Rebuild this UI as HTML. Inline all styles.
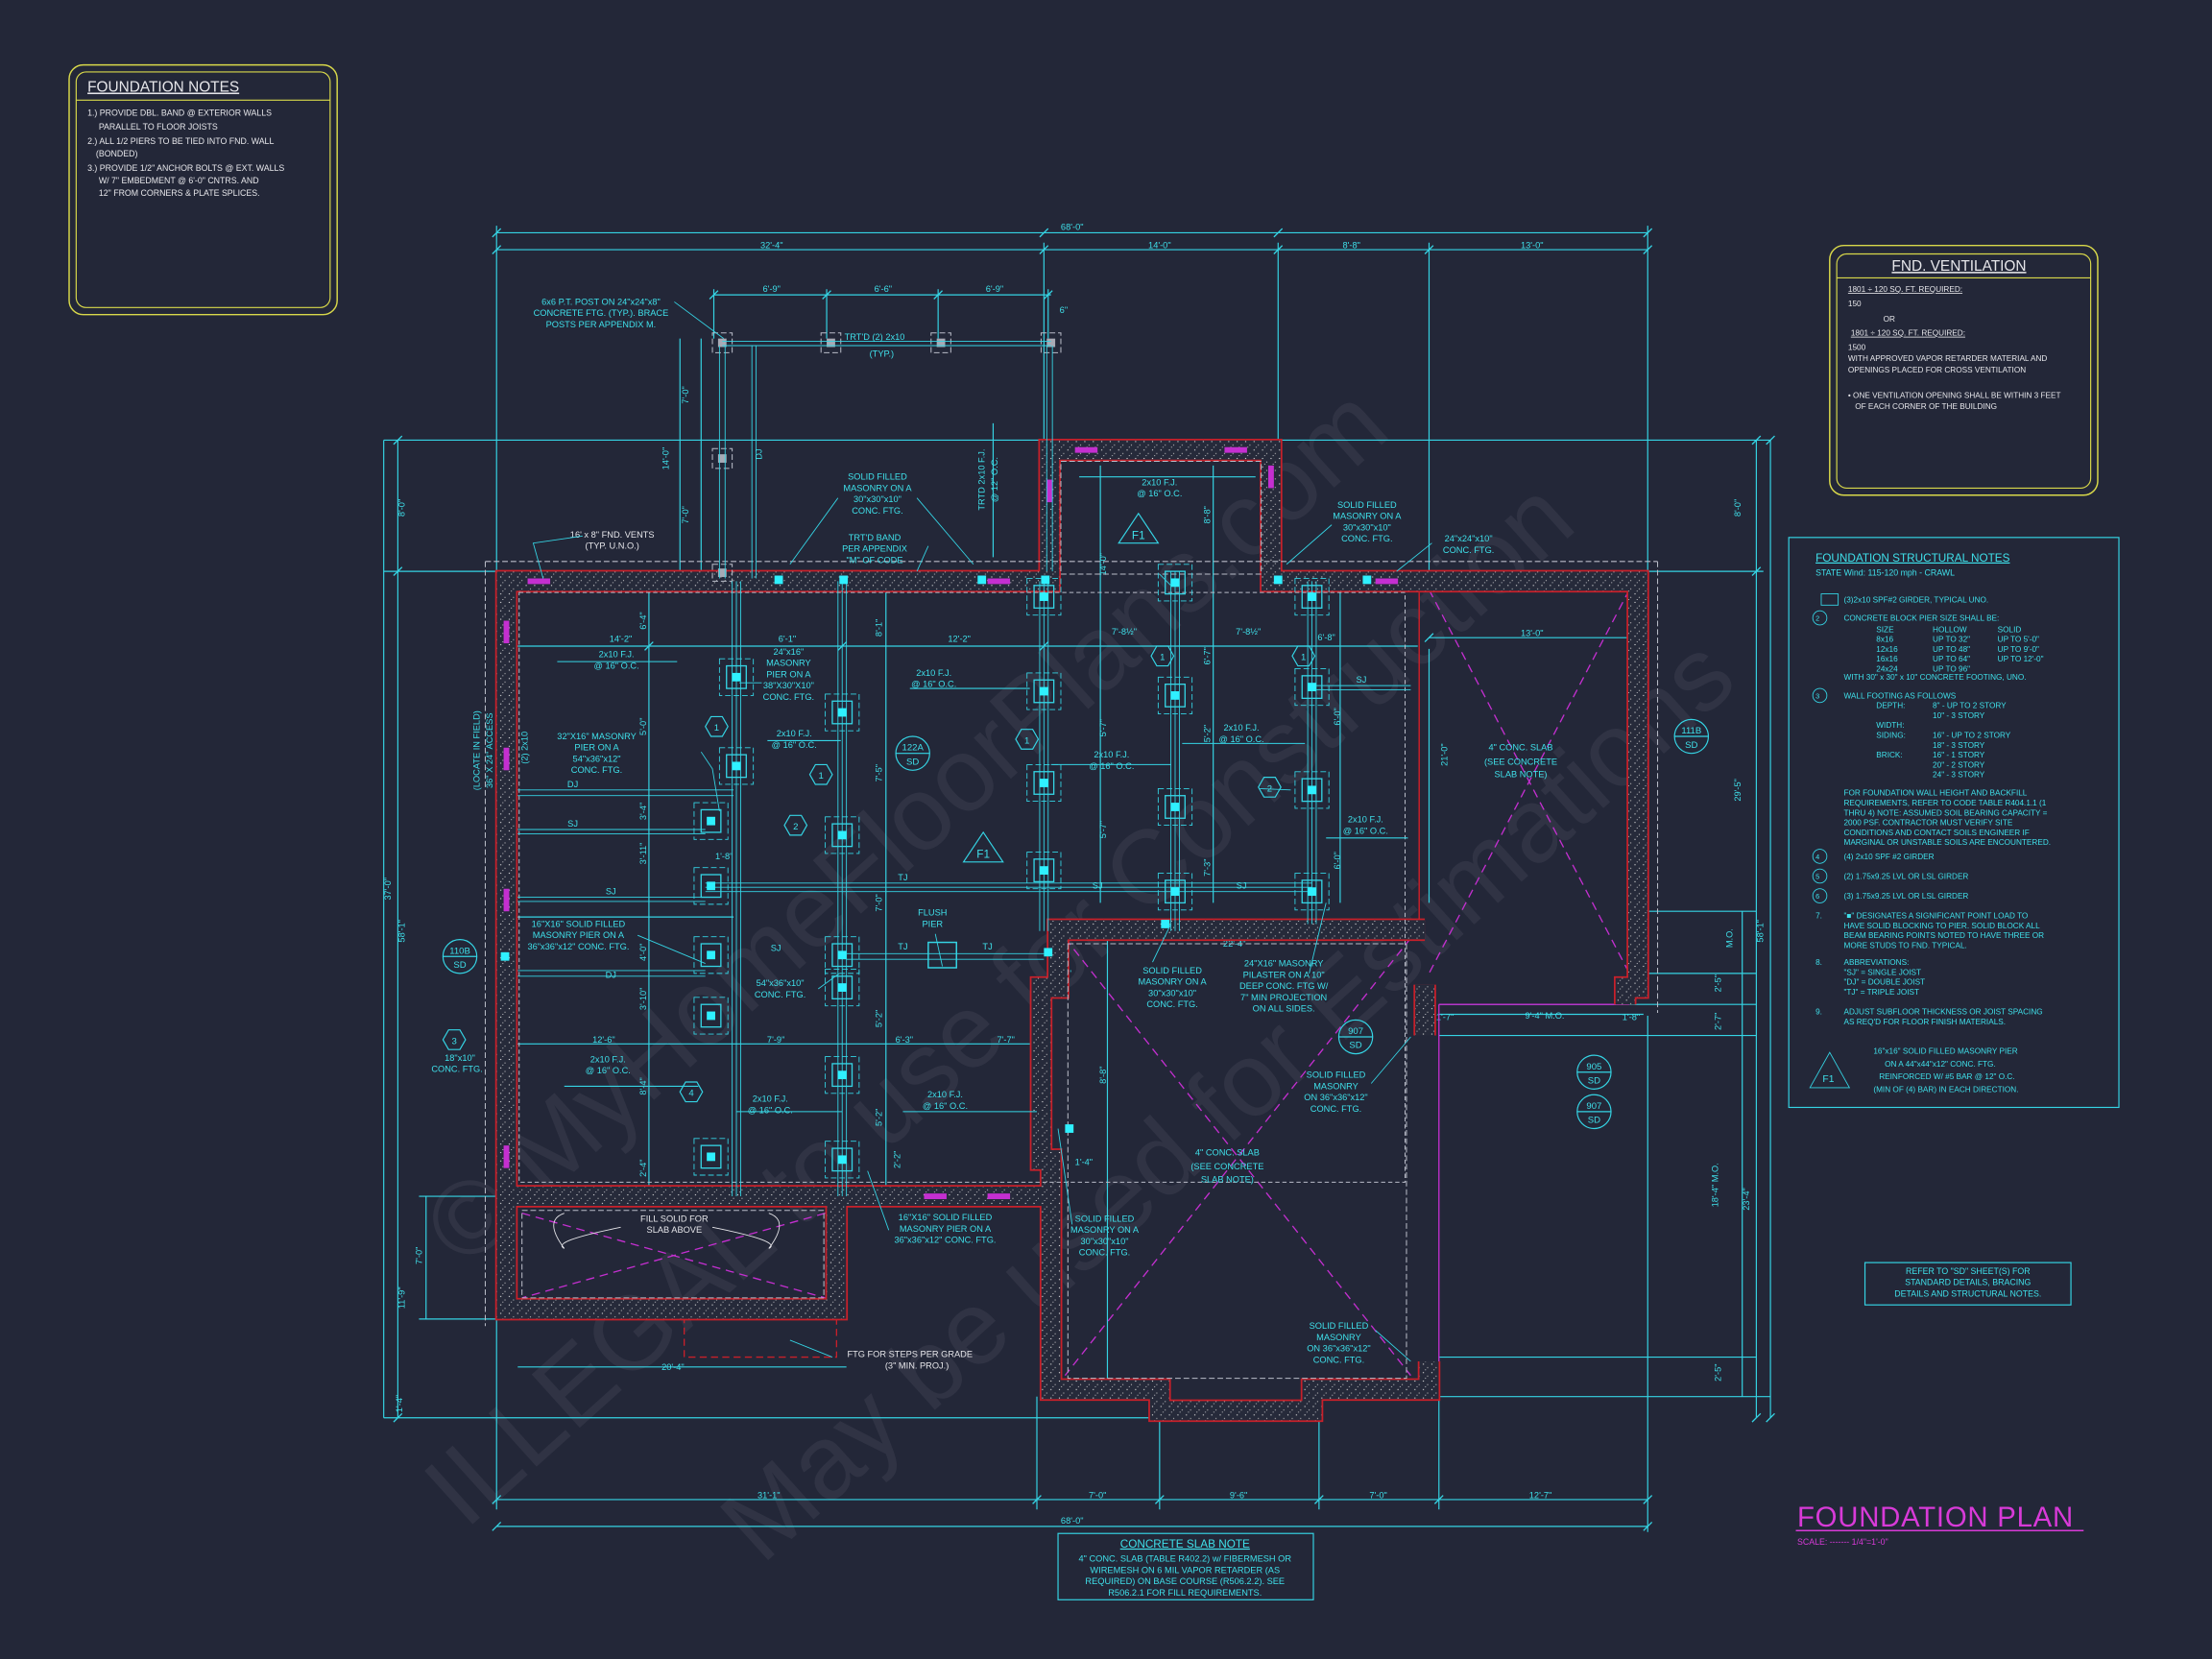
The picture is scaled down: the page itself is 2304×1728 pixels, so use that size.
<!DOCTYPE html>
<html><head><meta charset="utf-8"><style>
html,body{margin:0;padding:0;background:#232738;}
svg{display:block}
text{font-family:"Liberation Sans",sans-serif;}
.c{fill:#3fe0ea;font-size:6.3px}
.w{fill:#e6e6ea;font-size:6.3px}
.d{stroke:#35d4e4;stroke-width:0.8;fill:none}
.g{stroke:#35d4e4;stroke-width:0.6;fill:none}
.dash{stroke:#b9bcc8;stroke-width:0.7;fill:none;stroke-dasharray:4 2}
.mg{stroke:#c42fd0;stroke-width:0.9;fill:none;stroke-dasharray:6 4}
</style></head><body>
<svg width="2304" height="1728" viewBox="0 0 1568 1176" xmlns="http://www.w3.org/2000/svg">
<defs>
<pattern id="st" width="6" height="6" patternUnits="userSpaceOnUse"><rect width="6" height="6" fill="#262a3a"/><circle cx="1" cy="1" r="0.45" fill="#ddd"/><circle cx="4" cy="3.5" r="0.4" fill="#bbb"/><circle cx="2.5" cy="5" r="0.35" fill="#eee"/></pattern>
<g id="pier"><rect x="-12" y="-13" width="24" height="26" class="dash" style="stroke:#35d4e4;stroke-width:0.6"/><rect x="-7" y="-8" width="14" height="16" class="g" style="stroke-width:0.9"/><rect x="-3" y="-3" width="6" height="6" fill="#2ff0ff"/></g>
</defs>
<rect width="1568" height="1176" fill="#232738"/>

<!-- watermark -->
<g fill="#8a8d9a" fill-opacity="0.13" font-family="Liberation Serif,serif" font-size="74">
<text transform="translate(330,900) rotate(-42)">© MyHomeFloorPlans.com</text>
<text transform="translate(330,1085) rotate(-42)">ILLEGAL to use for Construction</text>
<text transform="translate(540,1110) rotate(-42)">May be used for Estimations</text>
</g>

<!-- Foundation notes -->
<rect x="49" y="46" width="190" height="177" rx="10" fill="none" stroke="#d8d84a" stroke-width="1"/>
<rect x="54" y="51" width="180" height="167" rx="7" fill="none" stroke="#d8d84a" stroke-width="0.8"/>
<line x1="54" y1="71" x2="234" y2="71" stroke="#d8d84a" stroke-width="0.8"/>
<text x="62" y="65" class="w" style="font-size:10.5px;text-decoration:underline">FOUNDATION NOTES</text>
<text class="w" style="font-size:6px"><tspan x="62" y="82">1.) PROVIDE DBL. BAND @ EXTERIOR WALLS</tspan><tspan x="70" y="92">PARALLEL TO FLOOR JOISTS</tspan><tspan x="62" y="102">2.) ALL 1/2 PIERS TO BE TIED INTO FND. WALL</tspan><tspan x="68" y="111">(BONDED)</tspan><tspan x="62" y="121">3.) PROVIDE 1/2" ANCHOR BOLTS @ EXT. WALLS</tspan><tspan x="70" y="130">W/ 7" EMBEDMENT @ 6'-0" CNTRS. AND</tspan><tspan x="70" y="139">12" FROM CORNERS &amp; PLATE SPLICES.</tspan></text>

<!-- Vent box -->
<rect x="1297" y="174" width="190" height="177" rx="10" fill="none" stroke="#d8d84a" stroke-width="1"/>
<rect x="1302" y="180" width="180" height="166" rx="7" fill="none" stroke="#d8d84a" stroke-width="0.8"/>
<line x1="1302" y1="197" x2="1482" y2="197" stroke="#d8d84a" stroke-width="0.8"/>
<text x="1341" y="192" class="w" style="font-size:10.5px;text-decoration:underline">FND. VENTILATION</text>
<text class="w" style="font-size:5.6px"><tspan x="1310" y="207" text-decoration="underline">1801 ÷ 120 SQ. FT. REQUIRED:</tspan><tspan x="1310" y="217">150</tspan><tspan x="1335" y="228">OR</tspan><tspan x="1312" y="238" text-decoration="underline">1801 ÷ 120 SQ. FT. REQUIRED:</tspan><tspan x="1310" y="248">1500</tspan><tspan x="1310" y="256">WITH APPROVED VAPOR RETARDER MATERIAL AND</tspan><tspan x="1310" y="264">OPENINGS PLACED FOR CROSS VENTILATION</tspan><tspan x="1310" y="282">• ONE VENTILATION OPENING SHALL BE WITHIN 3 FEET</tspan><tspan x="1315" y="290">OF EACH CORNER OF THE BUILDING</tspan></text>

<!-- structural notes -->
<rect x="1268" y="381" width="234" height="404" fill="none" stroke="#35d4e4" stroke-width="0.8"/>
<text x="1287" y="398" class="c" style="font-size:8px;text-decoration:underline">FOUNDATION STRUCTURAL NOTES</text>
<text x="1287" y="408" class="c" style="font-size:6px">STATE Wind: 115-120 mph - CRAWL</text>
<g class="c" style="font-size:5.6px">
<text x="1307" y="427">(3)2x10 SPF#2 GIRDER, TYPICAL UNO.</text>
<text x="1307" y="440">CONCRETE BLOCK PIER SIZE SHALL BE:</text>
<text x="1330" y="448">SIZE</text><text x="1370" y="448">HOLLOW</text><text x="1416" y="448">SOLID</text>
<text x="1330" y="455">8x16</text><text x="1370" y="455">UP TO 32"</text><text x="1416" y="455">UP TO 5'-0"</text>
<text x="1330" y="462">12x16</text><text x="1370" y="462">UP TO 48"</text><text x="1416" y="462">UP TO 9'-0"</text>
<text x="1330" y="469">16x16</text><text x="1370" y="469">UP TO 64"</text><text x="1416" y="469">UP TO 12'-0"</text>
<text x="1330" y="476">24x24</text><text x="1370" y="476">UP TO 96"</text>
<text x="1307" y="482">WITH 30" x 30" x 10" CONCRETE FOOTING, UNO.</text>
<text x="1307" y="495">WALL FOOTING AS FOLLOWS</text>
<text x="1330" y="502">DEPTH:</text><text x="1370" y="502">8" - UP TO 2 STORY</text><text x="1370" y="509">10" - 3 STORY</text>
<text x="1330" y="516">WIDTH:</text><text x="1330" y="523">SIDING:</text><text x="1370" y="523">16" - UP TO 2 STORY</text><text x="1370" y="530">18" - 3 STORY</text>
<text x="1330" y="537">BRICK:</text><text x="1370" y="537">16" - 1 STORY</text><text x="1370" y="544">20" - 2 STORY</text><text x="1370" y="551">24" - 3 STORY</text>
<text x="1307" y="564">FOR FOUNDATION WALL HEIGHT AND BACKFILL</text>
<text x="1307" y="571">REQUIREMENTS, REFER TO CODE TABLE R404.1.1 (1</text>
<text x="1307" y="578">THRU 4) NOTE: ASSUMED SOIL BEARING CAPACITY =</text>
<text x="1307" y="585">2000 PSF. CONTRACTOR MUST VERIFY SITE</text>
<text x="1307" y="592">CONDITIONS AND CONTACT SOILS ENGINEER IF</text>
<text x="1307" y="599">MARGINAL OR UNSTABLE SOILS ARE ENCOUNTERED.</text>
<text x="1307" y="609">(4) 2x10 SPF #2 GIRDER</text>
<text x="1307" y="623">(2) 1.75x9.25 LVL OR LSL GIRDER</text>
<text x="1307" y="637">(3) 1.75x9.25 LVL OR LSL GIRDER</text>
<text x="1287" y="651">7.</text><text x="1307" y="651">"■" DESIGNATES A SIGNIFICANT POINT LOAD TO</text>
<text x="1307" y="658">HAVE SOLID BLOCKING TO PIER. SOLID BLOCK ALL</text>
<text x="1307" y="665">BEAM BEARING POINTS NOTED TO HAVE THREE OR</text>
<text x="1307" y="672">MORE STUDS TO FND. TYPICAL.</text>
<text x="1287" y="684">8.</text><text x="1307" y="684">ABBREVIATIONS:</text>
<text x="1307" y="691">"SJ" = SINGLE JOIST</text><text x="1307" y="698">"DJ" = DOUBLE JOIST</text><text x="1307" y="705">"TJ" = TRIPLE JOIST</text>
<text x="1287" y="719">9.</text><text x="1307" y="719">ADJUST SUBFLOOR THICKNESS OR JOIST SPACING</text>
<text x="1307" y="726">AS REQ'D FOR FLOOR FINISH MATERIALS.</text>
<text x="1328" y="747">16"x16" SOLID FILLED MASONRY PIER</text>
<text x="1336" y="756">ON A 44"x44"x12" CONC. FTG.</text>
<text x="1332" y="765">REINFORCED W/ #5 BAR @ 12" O.C.</text>
<text x="1328" y="774">(MIN OF (4) BAR) IN EACH DIRECTION.</text>
</g>
<g class="g"><polygon points="1291,421 1303,421 1303,429 1291,429"/><circle cx="1290" cy="438" r="5"/><circle cx="1290" cy="493" r="5"/><circle cx="1290" cy="607" r="5"/><circle cx="1290" cy="621" r="5"/><circle cx="1290" cy="635" r="5"/><polygon points="1297,746 1283,771 1311,771"/></g>
<g class="c" style="font-size:5px"><text x="1287" y="440">2</text><text x="1287" y="495">3</text><text x="1287" y="609">4</text><text x="1287" y="623">5</text><text x="1287" y="637">6</text><text x="1292" y="767" style="font-size:7px">F1</text></g>
<rect x="1322" y="895" width="146" height="30" fill="none" stroke="#35d4e4" stroke-width="0.8"/>
<text class="c" style="font-size:6px" text-anchor="middle"><tspan x="1395" y="903">REFER TO "SD" SHEET(S) FOR</tspan><tspan x="1395" y="911">STANDARD DETAILS, BRACING</tspan><tspan x="1395" y="919">DETAILS AND STRUCTURAL NOTES.</tspan></text>

<!-- title -->
<text x="1274" y="1082" fill="#d83ad8" style="font-size:20px;letter-spacing:0.5px">FOUNDATION PLAN</text>
<line x1="1273" y1="1085" x2="1477" y2="1085" stroke="#d83ad8" stroke-width="1"/>
<text x="1274" y="1095" fill="#d83ad8" style="font-size:6px">SCALE: ------- 1/4"=1'-0"</text>

<!-- slab note -->
<line x1="352" y1="1082" x2="1168" y2="1082" class="d"/>
<rect x="750" y="1087" width="181" height="47" fill="none" stroke="#35d4e4" stroke-width="0.8"/>
<text class="c" text-anchor="middle" style="font-size:6.3px"><tspan x="840" y="1097" style="font-size:8px" text-decoration="underline">CONCRETE SLAB NOTE</tspan><tspan x="840" y="1107">4" CONC. SLAB (TABLE R402.2) w/ FIBERMESH OR</tspan><tspan x="840" y="1115">WIREMESH ON 6 MIL VAPOR RETARDER (AS</tspan><tspan x="840" y="1123">REQUIRED) ON BASE COURSE (R506.2.2). SEE</tspan><tspan x="840" y="1131">R506.2.1 FOR FILL REQUIREMENTS.</tspan></text>

<!-- dimension lines -->
<g class="d">
<line x1="352" y1="165" x2="1168" y2="165"/><line x1="352" y1="177" x2="1168" y2="177"/>
<line x1="352" y1="160" x2="352" y2="405"/><line x1="1168" y1="160" x2="1168" y2="405"/>
<line x1="740" y1="172" x2="740" y2="312"/><line x1="906" y1="172" x2="906" y2="312"/><line x1="1013" y1="172" x2="1013" y2="405"/>
<line x1="506" y1="209" x2="745" y2="209"/><line x1="506" y1="205" x2="506" y2="240"/><line x1="586" y1="205" x2="586" y2="240"/><line x1="665" y1="205" x2="665" y2="240"/><line x1="743" y1="205" x2="743" y2="240"/>
<line x1="272" y1="312" x2="1255" y2="312"/><line x1="272" y1="405" x2="352" y2="405"/>
<line x1="282" y1="312" x2="282" y2="1005"/><line x1="272" y1="312" x2="272" y2="1005"/><line x1="272" y1="1005" x2="822" y2="1005"/>
<line x1="1245" y1="312" x2="1245" y2="1005"/><line x1="1255" y1="312" x2="1255" y2="1005"/>
<line x1="1168" y1="405" x2="1250" y2="405"/><line x1="1020" y1="990" x2="1255" y2="990"/>
<line x1="1020" y1="712" x2="1245" y2="712"/><line x1="1020" y1="734" x2="1245" y2="734"/><line x1="1168" y1="646" x2="1245" y2="646"/><line x1="1168" y1="690" x2="1245" y2="690"/><line x1="1020" y1="962" x2="1245" y2="962"/>
<line x1="1235" y1="646" x2="1235" y2="990"/>
<line x1="352" y1="1063" x2="1168" y2="1063"/>
<line x1="352" y1="935" x2="352" y2="1070"/><line x1="735" y1="990" x2="735" y2="1070"/><line x1="822" y1="1005" x2="822" y2="1070"/><line x1="935" y1="1005" x2="935" y2="1070"/><line x1="1020" y1="990" x2="1020" y2="1070"/><line x1="1168" y1="720" x2="1168" y2="1086"/>
<line x1="360" y1="458" x2="1005" y2="458"/><line x1="1013" y1="452" x2="1160" y2="452"/>
<line x1="360" y1="740" x2="735" y2="740"/><line x1="360" y1="650" x2="520" y2="650"/>
<line x1="367" y1="969" x2="600" y2="969"/><line x1="297" y1="848" x2="352" y2="848"/><line x1="297" y1="935" x2="352" y2="935"/><line x1="302" y1="848" x2="302" y2="935"/>
<line x1="760" y1="665" x2="1005" y2="665"/><line x1="1020" y1="719" x2="1165" y2="719"/>
<line x1="460" y1="418" x2="460" y2="848"/><line x1="628" y1="418" x2="628" y2="848"/><line x1="780" y1="330" x2="780" y2="640"/><line x1="860" y1="330" x2="860" y2="640"/><line x1="950" y1="412" x2="950" y2="640"/><line x1="1013" y1="460" x2="1013" y2="640"/><line x1="785" y1="660" x2="785" y2="990"/><line x1="482" y1="240" x2="482" y2="412"/><line x1="497" y1="240" x2="497" y2="412"/>
<line x1="765" y1="338" x2="890" y2="338"/><line x1="704" y1="300" x2="704" y2="395"/>
</g>
<!-- ticks -->
<g stroke="#35d4e4" stroke-width="0.9">
<path d="M349,168l6,-6M737,168l6,-6M903,168l6,-6M1165,168l6,-6M349,180l6,-6M737,180l6,-6M903,180l6,-6M1010,180l6,-6M1165,180l6,-6M503,212l6,-6M583,212l6,-6M662,212l6,-6M740,212l6,-6M349,1066l6,-6M732,1066l6,-6M819,1066l6,-6M932,1066l6,-6M1017,1066l6,-6M1165,1066l6,-6M349,1085l6,-6M1165,1085l6,-6M279,315l6,-6M279,1008l6,-6M279,408l6,-6M1242,315l6,-6M1242,408l6,-6M1242,1008l6,-6M1252,315l6,-6M1252,1008l6,-6M457,461l6,-6M594,461l6,-6M737,461l6,-6M1010,455l6,-6M1157,455l6,-6"/>
</g>
<g class="c" text-anchor="middle">
<text x="760" y="163">68'-0"</text><text x="547" y="176">32'-4"</text><text x="822" y="176">14'-0"</text><text x="958" y="176">8'-8"</text><text x="1086" y="176">13'-0"</text>
<text x="547" y="207">6'-9"</text><text x="626" y="207">6'-6"</text><text x="705" y="207">6'-9"</text><text x="754" y="222">6"</text>
<text x="440" y="455">14'-2"</text><text x="558" y="455">6'-1"</text><text x="680" y="455">12'-2"</text><text x="1086" y="451">13'-0"</text>
<text x="428" y="739">12'-6"</text><text x="550" y="739">7'-9"</text><text x="641" y="739">6'-3"</text><text x="713" y="739">7'-7"</text>
<text x="477" y="971">20'-4"</text><text x="875" y="671">22'-4"</text><text x="1095" y="722">9'-4" M.O.</text>
<text x="545" y="1062">31'-1"</text><text x="778" y="1062">7'-0"</text><text x="878" y="1062">9'-6"</text><text x="977" y="1062">7'-0"</text><text x="1092" y="1062">12'-7"</text>
<text x="760" y="1080">68'-0"</text>
</g>
<g class="c" text-anchor="middle">
<text transform="translate(287,660) rotate(-90)">58'-1"</text><text transform="translate(287,360) rotate(-90)">8'-0"</text>
<text transform="translate(1250,660) rotate(-90)">58'-1"</text><text transform="translate(1234,360) rotate(-90)">8'-0"</text><text transform="translate(1234,560) rotate(-90)">29'-5"</text>
<text transform="translate(1240,850) rotate(-90)">23'-4"</text><text transform="translate(1218,840) rotate(-90)">18'-4" M.O.</text><text transform="translate(1228,665) rotate(-90)">M.O.</text>
<text transform="translate(1220,697) rotate(-90)">2'-5"</text><text transform="translate(1220,724) rotate(-90)">2'-7"</text><text transform="translate(1220,973) rotate(-90)">2'-5"</text>
<text transform="translate(277,630) rotate(-90)">37'-0"</text><text transform="translate(299,890) rotate(-90)">7'-0"</text><text transform="translate(287,920) rotate(-90)">11'-9"</text><text transform="translate(285,995) rotate(-90)">1'-4"</text>
<text transform="translate(488,280) rotate(-90)">7'-0"</text><text transform="translate(474,325) rotate(-90)">14'-0"</text><text transform="translate(488,365) rotate(-90)">7'-0"</text>
<text transform="translate(458,440) rotate(-90)">6'-4"</text><text transform="translate(458,515) rotate(-90)">5'-0"</text><text transform="translate(458,575) rotate(-90)">3'-4"</text><text transform="translate(458,605) rotate(-90)">3'-11"</text><text transform="translate(458,675) rotate(-90)">4'-0"</text><text transform="translate(458,708) rotate(-90)">3'-10"</text><text transform="translate(458,770) rotate(-90)">8'-4"</text><text transform="translate(458,828) rotate(-90)">2'-4"</text>
<text transform="translate(625,445) rotate(-90)">8'-1"</text><text transform="translate(625,548) rotate(-90)">7'-5"</text><text transform="translate(625,640) rotate(-90)">7'-0"</text><text transform="translate(625,722) rotate(-90)">5'-2"</text><text transform="translate(625,792) rotate(-90)">5'-2"</text><text transform="translate(638,822) rotate(-90)">2'-2"</text>
<text transform="translate(784,400) rotate(-90)">14'-0"</text><text transform="translate(784,516) rotate(-90)">5'-7"</text><text transform="translate(784,588) rotate(-90)">5'-7"</text><text transform="translate(784,762) rotate(-90)">8'-8"</text>
<text transform="translate(858,365) rotate(-90)">8'-8"</text><text transform="translate(858,465) rotate(-90)">6'-7"</text><text transform="translate(858,520) rotate(-90)">5'-2"</text><text transform="translate(858,615) rotate(-90)">7'-3"</text>
<text transform="translate(950,508) rotate(-90)">6'-0"</text><text transform="translate(950,610) rotate(-90)">6'-0"</text><text transform="translate(1026,535) rotate(-90)">21'-0"</text>
</g>
<g class="c"><text x="788" y="450">7'-8½"</text><text x="876" y="450">7'-8½"</text><text x="934" y="454">6'-8"</text><text x="507" y="609">1'-8"</text><text x="747" y="692">1'-4"</text><text x="762" y="826">1'-4"</text><text x="1018" y="723">1'-7"</text><text x="1150" y="723">1'-8"</text></g>

<!-- slabs magenta -->
<g class="mg">
<path d="M1013,418 L1155,690 M1155,418 L1013,690"/>
<path d="M755,665 L1000,975 M1000,665 L755,975"/>
<path d="M370,860 L585,920 M585,860 L370,920"/>
<line x1="1020" y1="712" x2="1155" y2="712" style="stroke-dasharray:none"/>
<line x1="1020" y1="712" x2="1020" y2="965" style="stroke-dasharray:none"/>
</g>
<rect x="485" y="930" width="108" height="32" fill="none" stroke="#c8202a" stroke-width="0.9" stroke-dasharray="5 3"/>

<!-- walls -->
<g fill="none" stroke-linejoin="miter">
<path id="wall" d="M359,848 L359,412 L744,412 L744,319 L901,319 L901,412 L1161,412 L1161,700 L1152,700 L1152,712 M359,848 L359,928 L593,928 L593,848 M359,848 L745,848 L745,822 L738,822 L738,700 L750,700 L750,659 L1010,659 M745,822 L745,985 L822,985 L822,1000 L930,1000 L930,985 L1013,985 L1013,965 M1010,698 L1010,734" stroke="#c8202a" stroke-width="16"/>
<path d="M359,848 L359,412 L744,412 L744,319 L901,319 L901,412 L1161,412 L1161,700 L1152,700 L1152,712 M359,848 L359,928 L593,928 L593,848 M359,848 L745,848 L745,822 L738,822 L738,700 L750,700 L750,659 L1010,659 M745,822 L745,985 L822,985 L822,1000 L930,1000 L930,985 L1013,985 L1013,965 M1010,698 L1010,734" stroke="url(#st)" stroke-width="13.6"/>
<line x1="1006" y1="420" x2="1006" y2="652" stroke="#c8202a" stroke-width="1"/>
</g>
<!-- dashed footing outlines -->
<g class="dash">
<rect x="368" y="420" width="628" height="418" style="stroke-dasharray:3 2"/>
<rect x="370" y="858" width="214" height="62"/>
<rect x="757" y="669" width="240" height="308"/>
<rect x="752" y="327" width="142" height="80"/>
<path d="M344,398 L1175,398 M344,398 L344,940 M1175,398 L1175,718"/>
</g>
<!-- vents magenta on walls -->
<g stroke="#c42fd0" stroke-width="4">
<line x1="374" y1="412" x2="390" y2="412"/><line x1="700" y1="412" x2="716" y2="412"/><line x1="762" y1="319" x2="778" y2="319"/><line x1="868" y1="319" x2="884" y2="319"/><line x1="975" y1="412" x2="991" y2="412"/><line x1="744" y1="340" x2="744" y2="356"/><line x1="901" y1="330" x2="901" y2="346"/>
<line x1="359" y1="440" x2="359" y2="456"/><line x1="359" y1="530" x2="359" y2="546"/><line x1="359" y1="630" x2="359" y2="646"/><line x1="359" y1="812" x2="359" y2="828"/><line x1="655" y1="848" x2="671" y2="848"/><line x1="700" y1="848" x2="716" y2="848"/>
</g>

<!-- porch posts -->
<g>
<rect x="505" y="236" width="14" height="14" class="dash"/><rect x="582" y="236" width="14" height="14" class="dash"/><rect x="660" y="236" width="14" height="14" class="dash"/><rect x="738" y="236" width="14" height="14" class="dash"/><rect x="505" y="318" width="14" height="14" class="dash"/><rect x="505" y="400" width="14" height="12" class="dash"/>
<g fill="#a8aab5"><rect x="509" y="240" width="6" height="6"/><rect x="586" y="240" width="6" height="6"/><rect x="664" y="240" width="6" height="6"/><rect x="742" y="240" width="6" height="6"/><rect x="509" y="322" width="6" height="6"/><rect x="509" y="403" width="6" height="6"/></g>
<path class="g" d="M512,242 L745,242 M512,245 L745,245 M510,245 L510,410 M514,245 L514,410 M742,245 L742,405 M746,245 L746,405 M533,245 L533,410 M536,245 L536,410"/>
</g>
<!-- girders -->
<g class="g">
<path d="M519,412 V848 M522,412 V848 M525,412 V848 M594,412 V848 M597,412 V848 M600,412 V848 M737,412 V660 M740,412 V660 M743,412 V660 M830,405 V660 M833,405 V660 M836,405 V660 M927,412 V655 M930,412 V655 M933,412 V655"/>
<path d="M367,560 H520 M367,564 H520 M367,588 H500 M367,591 H500 M367,636 H500 M367,639 H500 M367,688 H500 M367,692 H500 M500,626 H930 M500,629 H930 M500,632 H930 M600,676 H740 M600,680 H740 M933,486 H1000 M933,489 H1000"/>
<path d="M395,469 H480 M544,525 H596 M645,488 H730 M745,542 H830 M838,527 H925 M940,594 H998 M400,770 H495 M522,788 H597 M640,788 H735" stroke-width="0.7"/>
</g>
<g>
<use href="#pier" x="522" y="480"/><use href="#pier" x="522" y="543"/><use href="#pier" x="504" y="582"/><use href="#pier" x="504" y="628"/><use href="#pier" x="504" y="677"/><use href="#pier" x="504" y="720"/><use href="#pier" x="504" y="820"/>
<use href="#pier" x="597" y="505"/><use href="#pier" x="597" y="592"/><use href="#pier" x="597" y="677"/><use href="#pier" x="597" y="700"/><use href="#pier" x="597" y="762"/><use href="#pier" x="597" y="822"/>
<use href="#pier" x="740" y="423"/><use href="#pier" x="740" y="490"/><use href="#pier" x="740" y="555"/><use href="#pier" x="740" y="617"/>
<use href="#pier" x="833" y="413"/><use href="#pier" x="833" y="493"/><use href="#pier" x="833" y="572"/><use href="#pier" x="833" y="632"/>
<use href="#pier" x="930" y="423"/><use href="#pier" x="930" y="487"/><use href="#pier" x="930" y="560"/><use href="#pier" x="930" y="632"/>
<rect x="658" y="668" width="20" height="18" class="g" style="stroke-width:1"/>
</g>
<g fill="#2ff0ff"><rect x="549" y="408" width="6" height="6"/><rect x="595" y="408" width="6" height="6"/><rect x="693" y="408" width="6" height="6"/><rect x="738" y="408" width="6" height="6"/><rect x="903" y="408" width="6" height="6"/><rect x="966" y="408" width="6" height="6"/><rect x="355" y="675" width="6" height="6"/><rect x="740" y="672" width="6" height="6"/><rect x="755" y="797" width="6" height="6"/><rect x="823" y="652" width="6" height="6"/></g>

<!-- tags -->
<g class="g" style="stroke-width:0.8">
<polygon points="504,508 512,508 516,515 512,522 504,522 500,515"/><polygon points="578,542 586,542 590,549 586,556 578,556 574,549"/><polygon points="560,578 568,578 572,585 568,592 560,592 556,585"/><polygon points="820,458 828,458 832,465 828,472 820,472 816,465"/><polygon points="724,517 732,517 736,524 732,531 724,531 720,524"/><polygon points="896,551 904,551 908,558 904,565 896,565 892,558"/><polygon points="920,458 928,458 932,465 928,472 920,472 916,465"/><polygon points="318,730 326,730 330,737 326,744 318,744 314,737"/><polygon points="486,767 494,767 498,774 494,781 486,781 482,774"/>
<polygon points="697,590 683,611 711,611"/><polygon points="807,364 793,385 821,385"/>
<circle cx="647" cy="534" r="12"/><line x1="635" y1="534" x2="659" y2="534"/>
<circle cx="1199" cy="522" r="12"/><line x1="1187" y1="522" x2="1211" y2="522"/>
<circle cx="326" cy="678" r="12"/><line x1="314" y1="678" x2="338" y2="678"/>
<circle cx="961" cy="735" r="12"/><line x1="949" y1="735" x2="973" y2="735"/>
<circle cx="1130" cy="760" r="12"/><line x1="1118" y1="760" x2="1142" y2="760"/>
<circle cx="1130" cy="788" r="12"/><line x1="1118" y1="788" x2="1142" y2="788"/>
</g>
<g class="c" text-anchor="middle" style="font-size:6.5px">
<text x="508" y="518">1</text><text x="582" y="552">1</text><text x="564" y="588">2</text><text x="824" y="468">1</text><text x="728" y="527">1</text><text x="900" y="561">2</text><text x="924" y="468">1</text><text x="322" y="740">3</text><text x="490" y="777">4</text>
<text x="697" y="608" style="font-size:8px">F1</text><text x="807" y="382" style="font-size:8px">F1</text>
<text x="647" y="532">122A</text><text x="647" y="542">SD</text><text x="1199" y="520">111B</text><text x="1199" y="530">SD</text><text x="326" y="676">110B</text><text x="326" y="686">SD</text>
<text x="961" y="733">907</text><text x="961" y="743">SD</text><text x="1130" y="758">905</text><text x="1130" y="768">SD</text><text x="1130" y="786">907</text><text x="1130" y="796">SD</text>
</g>

<!-- labels -->
<g class="c" style="font-size:6.3px" text-anchor="middle">
<text x="426" y="216">6x6 P.T. POST ON 24"x24"x8"</text><text x="426" y="224">CONCRETE FTG. (TYP.). BRACE</text><text x="426" y="232">POSTS PER APPENDIX M.</text>
<text x="620" y="241">TRT'D (2) 2x10</text><text x="625" y="253">(TYP.)</text>
<text x="622" y="340">SOLID FILLED</text><text x="622" y="348">MASONRY ON A</text><text x="622" y="356">30"x30"x10"</text><text x="622" y="364">CONC. FTG.</text>
<text x="620" y="383">TRT'D BAND</text><text x="620" y="391">PER APPENDIX</text><text x="620" y="399">"M" OF CODE</text>
<text class="w" x="434" y="381">16' x 8" FND. VENTS</text><text class="w" x="434" y="389">(TYP. U.N.O.)</text>
<text x="969" y="360">SOLID FILLED</text><text x="969" y="368">MASONRY ON A</text><text x="969" y="376">30"x30"x10"</text><text x="969" y="384">CONC. FTG.</text>
<text x="1041" y="384">24"x24"x10"</text><text x="1041" y="392">CONC. FTG.</text>
<text x="822" y="344">2x10 F.J.</text><text x="822" y="352">@ 16" O.C.</text>
<text x="437" y="466">2x10 F.J.</text><text x="437" y="474">@ 16" O.C.</text>
<text x="559" y="464">24"x16"</text><text x="559" y="472">MASONRY</text><text x="559" y="480">PIER ON A</text><text x="559" y="488">38"X30"X10"</text><text x="559" y="496">CONC. FTG.</text>
<text x="662" y="479">2x10 F.J.</text><text x="662" y="487">@ 16" O.C.</text>
<text x="563" y="522">2x10 F.J.</text><text x="563" y="530">@ 16" O.C.</text>
<text x="423" y="524">32"X16" MASONRY</text><text x="423" y="532">PIER ON A</text><text x="423" y="540">54"x36"x12"</text><text x="423" y="548">CONC. FTG.</text>
<text x="788" y="537">2x10 F.J.</text><text x="788" y="545">@ 16" O.C.</text>
<text x="880" y="518">2x10 F.J.</text><text x="880" y="526">@ 16" O.C.</text>
<text x="968" y="583">2x10 F.J.</text><text x="968" y="591">@ 16" O.C.</text>
<text x="1078" y="532">4" CONC. SLAB</text><text x="1078" y="542">(SEE CONCRETE</text><text x="1078" y="551">SLAB NOTE)</text>
<text x="406" y="558">DJ</text><text x="406" y="586">SJ</text><text x="433" y="634">SJ</text><text x="433" y="693">DJ</text><text x="550" y="674">SJ</text><text x="640" y="673">TJ</text><text x="700" y="673">TJ</text><text x="640" y="624">TJ</text><text x="778" y="630">SJ</text><text x="880" y="630">SJ</text><text x="965" y="484">SJ</text>
<text x="661" y="649">FLUSH</text><text x="661" y="657">PIER</text>
<text x="410" y="657">16"X16" SOLID FILLED</text><text x="410" y="665">MASONRY PIER ON A</text><text x="410" y="673">36"x36"x12" CONC. FTG.</text>
<text x="553" y="699">54"x36"x10"</text><text x="553" y="707">CONC. FTG.</text>
<text x="326" y="752">18"x10"</text><text x="324" y="760">CONC. FTG.</text>
<text x="431" y="753">2x10 F.J.</text><text x="431" y="761">@ 16" O.C.</text>
<text x="546" y="781">2x10 F.J.</text><text x="546" y="789">@ 16" O.C.</text>
<text x="670" y="778">2x10 F.J.</text><text x="670" y="786">@ 16" O.C.</text>
<text x="831" y="690">SOLID FILLED</text><text x="831" y="698">MASONRY ON A</text><text x="831" y="706">30"x30"x10"</text><text x="831" y="714">CONC. FTG.</text>
<text x="910" y="685">24"X16" MASONRY</text><text x="910" y="693">PILASTER ON A 10"</text><text x="910" y="701">DEEP CONC. FTG W/</text><text x="910" y="709">7" MIN PROJECTION</text><text x="910" y="717">ON ALL SIDES.</text>
<text x="947" y="764">SOLID FILLED</text><text x="947" y="772">MASONRY</text><text x="947" y="780">ON 36"x36"x12"</text><text x="947" y="788">CONC. FTG.</text>
<text x="870" y="819">4" CONC. SLAB</text><text x="870" y="829">(SEE CONCRETE</text><text x="870" y="838">SLAB NOTE)</text>
<text x="670" y="865">16"X16" SOLID FILLED</text><text x="670" y="873">MASONRY PIER ON A</text><text x="670" y="881">36"x36"x12" CONC. FTG.</text>
<text x="783" y="866">SOLID FILLED</text><text x="783" y="874">MASONRY ON A</text><text x="783" y="882">30"x30"x10"</text><text x="783" y="890">CONC. FTG.</text>
<text class="w" x="478" y="866">FILL SOLID FOR</text><text class="w" x="478" y="874">SLAB ABOVE</text>
<text class="w" x="645" y="962">FTG FOR STEPS PER GRADE</text><text class="w" x="650" y="970">(3" MIN. PROJ.)</text>
<text x="949" y="942">SOLID FILLED</text><text x="949" y="950">MASONRY</text><text x="949" y="958">ON 36"x36"x12"</text><text x="949" y="966">CONC. FTG.</text>
</g>
<g class="c" style="font-size:6.3px" text-anchor="middle">
<text transform="translate(540,322) rotate(-90)">DJ</text>
<text transform="translate(698,340) rotate(-90)">TRTD 2x10 F.J.</text><text transform="translate(707,340) rotate(-90)">@ 12" O.C.</text>
<text transform="translate(340,532) rotate(-90)">(LOCATE IN FIELD)</text><text transform="translate(349,532) rotate(-90)">36" X 24" ACCESS</text>
<text transform="translate(374,530) rotate(-90)">(2) 2x10</text>
</g>
<!-- leaders -->
<g class="g">
<path d="M478,214 L513,240 M594,353 L560,400 M650,353 L690,400 M658,387 L650,405 M413,380 L378,385 L385,410 M944,372 L912,400 M1015,385 L990,405 M497,533 L505,545 L510,575 M524,484 L540,484 M452,663 L500,683 M580,701 L595,690 M663,662 L668,685 M817,682 L830,655 M928,690 L940,640 M972,768 L1000,735 M630,872 L615,830 M760,868 L750,800 M975,943 L1000,965 M590,962 L560,950 M893,559 L915,560 M822,407 L830,415"/>
<path d="M440,870 Q390,880 400,885 Q385,865 400,860 M505,870 Q555,880 545,885 Q560,865 545,860" stroke="#e6e6ea"/>
</g>
</svg>
</body></html>
